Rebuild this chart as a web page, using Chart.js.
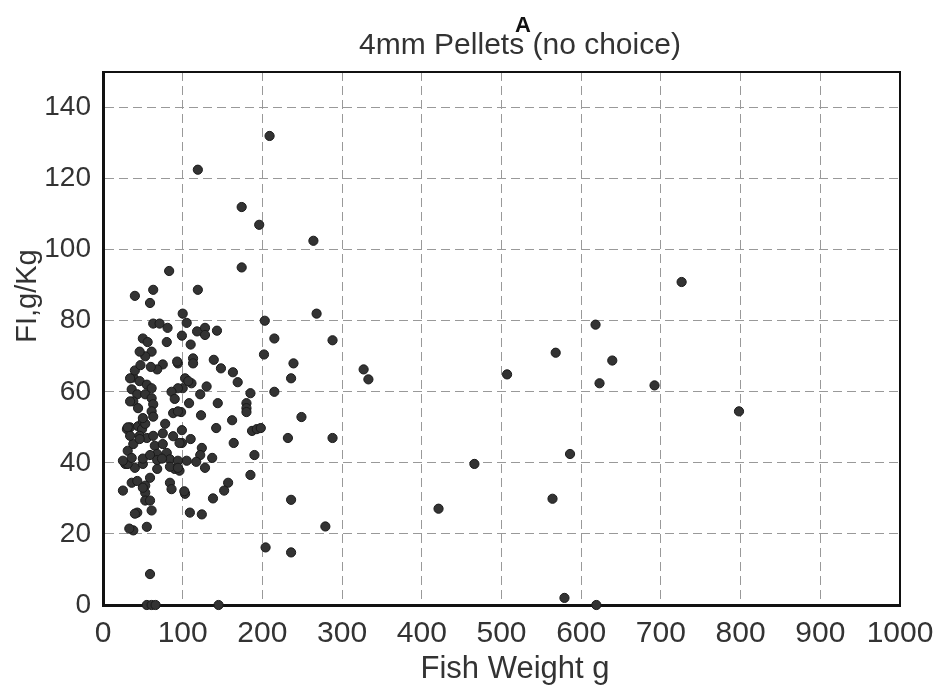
<!DOCTYPE html>
<html lang="en">
<head>
    <meta charset="UTF-8">
    <title>4mm Pellets (no choice)</title>
    <script src="https://cdn.jsdelivr.net/npm/chart.js"></script>
    <style>
        body { margin: 0; background: #fff; }
        .chart-wrap { position: relative; width: 946px; height: 690px; }
    </style>
</head>
<body>
    <div class="chart-wrap"><canvas id="fiChart"></canvas></div>

    <script>
        // Fish weight (g) and feed intake (g/kg)
        const fishWeight = [
            209, 119, 174, 196, 264, 174, 119, 100, 268, 203, 288, 215, 105, 118, 128, 128, 143, 110, 113, 113,
            139, 148, 163, 169, 202, 239, 236, 327, 333, 103, 111, 100, 130, 122, 185, 215, 180, 180, 180, 144,
            108, 98, 123, 162, 249, 99, 142, 187, 193, 198, 110, 164, 232, 288, 99, 124, 122, 117, 128, 137,
            105, 190, 185, 157, 152, 103, 138, 236, 109, 124, 279, 204, 236, 145,
            726, 618, 568, 639, 507, 623, 692, 798, 586, 466, 564, 421, 579, 619,
            55, 61, 66,
            83, 63, 40, 59, 63, 71, 81, 50, 56, 99, 80, 61, 53, 46, 75, 68, 94, 93, 38, 46,
            55, 61, 36, 43, 53, 61, 63, 107, 94, 38, 44, 88, 94, 61, 63, 78, 34, 44, 50, 49,
            53, 46, 55, 63, 96, 65, 75, 68, 80, 84, 94, 30, 40, 50, 68, 90, 96, 59, 84, 36,
            25, 53, 53, 53, 59, 43, 61, 55, 38, 59, 30, 28, 31, 33, 50, 31, 38, 46, 88, 75,
            50, 59, 68, 74, 25, 36, 84, 94, 43, 50, 86, 102, 40, 47, 60, 86, 90, 34, 34, 31,
            34, 40
        ];
        const feedIntake = [
            132, 122.5, 112, 107, 102.5, 95, 88.7, 82, 82, 80, 74.5, 75, 79.4, 77, 78, 76, 77.2, 73.3, 69.4, 68,
            69, 66.6, 65.5, 62.7, 70.5, 68, 63.8, 66.3, 63.5, 63.8, 62.4, 61, 61.5, 59.3, 59.6, 60, 56.8, 55.4, 54.3, 56.8,
            56.8, 54.3, 53.4, 52, 52.9, 49.2, 49.8, 49, 49.5, 49.8, 46.7, 45.6, 47, 47, 45.6, 44.2, 42.2, 40.3, 38.6, 41.4,
            40.6, 42.2, 36.6, 34.4, 32.2, 31.3, 30, 29.6, 26, 25.5, 22.1, 16.2, 14.8, 0,
            90.9, 78.9, 71, 68.8, 64.9, 62.4, 61.8, 54.5, 42.5, 39.7, 29.9, 27.1, 2, 0,
            0, 0, 0,
            94, 88.7, 87, 85, 79.2, 79.2, 78, 75, 74, 75.8, 74, 71.3, 70, 71.3, 67.7, 66.3, 68, 68.5, 64, 63,
            62, 61, 60.7, 59.3, 59.3, 58.2, 56.5, 63, 61, 57.3, 55.4, 54, 54.5, 54.5, 53, 51, 50, 50.3, 51.7, 49.5,
            51, 47.6, 47, 47.6, 45.6, 44.8, 45.3, 42.5, 42.8, 41, 40.6, 39.7, 38.6, 39.7, 38.3, 38.3, 37.8, 35.8, 34.4, 34.4,
            32.2, 33.6, 31.6, 29.4, 29.4, 26, 26.6, 22, 21, 8.7, 49.5, 39.7, 39.7, 21.5, 52.6, 43.4, 45.3, 46.7, 47.5, 48.3,
            41.2, 42.2, 40.8, 41.2, 40.6, 41.4, 38.9, 38.6, 34.9, 33, 32.6, 32, 66, 67.5, 67, 60, 58, 63.8, 57.3, 50,
            47.6, 25.7
        ];

        const xTicks = [0, 100, 200, 300, 400, 500, 600, 700, 800, 900, 1000];
        const yTicks = [0, 20, 40, 60, 80, 100, 120, 140];

        const points = fishWeight.map((w, i) => ({ x: w, y: feedIntake[i] }));
        const FONT = '"Liberation Sans", Arial, sans-serif';

        // Plot frame (top/right) and the free-standing labels
        const framePlugin = {
            id: 'frame',
            beforeDatasetsDraw(chart) {
                const { ctx, chartArea: a } = chart;
                ctx.save();
                ctx.strokeStyle = '#111';
                ctx.lineWidth = 2;
                ctx.beginPath();
                ctx.moveTo(a.left, a.top);
                ctx.lineTo(a.right, a.top);
                ctx.lineTo(a.right, a.bottom);
                ctx.stroke();
                ctx.restore();
            },
            afterDraw(chart) {
                const { ctx } = chart;
                ctx.save();
                ctx.textAlign = 'center';
                ctx.textBaseline = 'alphabetic';

                ctx.font = 'bold 22px ' + FONT;
                ctx.fillStyle = '#111';
                ctx.fillText('A', 523, 32);

                ctx.fillStyle = '#333';
                ctx.font = '30px ' + FONT;
                ctx.fillText('4mm Pellets (no choice)', 520, 54);

                ctx.font = '31px ' + FONT;
                ctx.fillText('Fish Weight g', 515, 678);

                ctx.translate(28, 296);
                ctx.rotate(-Math.PI / 2);
                ctx.textBaseline = 'middle';
                ctx.font = '29px ' + FONT;
                ctx.fillText('FI,g/Kg', 0, 0);
                ctx.restore();
            }
        };

        const ctx = document.getElementById('fiChart').getContext('2d');
        new Chart(ctx, {
            type: 'scatter',
            data: {
                datasets: [{
                    label: 'FI',
                    data: points,
                    backgroundColor: '#333',
                    borderColor: '#1a1a1a',
                    borderWidth: 1,
                    pointRadius: 4.6,
                    clip: false
                }]
            },
            options: {
                responsive: true,
                maintainAspectRatio: false,
                animation: false,
                layout: { padding: { top: 72, right: 46, left: 0, bottom: 0 } },
                plugins: {
                    legend: { display: false },
                    tooltip: { enabled: false }
                },
                scales: {
                    x: {
                        type: 'linear',
                        min: 0,
                        max: 1000,
                        afterBuildTicks: s => { s.ticks = xTicks.map(v => ({ value: v })); },
                        afterFit: s => { s.height = 85; },
                        grid: { color: '#999', lineWidth: 1, drawTicks: false },
                        border: { display: true, color: '#111', width: 3, dash: [9, 5] },
                        ticks: {
                            color: '#333',
                            padding: 11,
                            maxRotation: 0,
                            callback: v => String(v),
                            font: { family: FONT, size: 30 }
                        }
                    },
                    y: {
                        type: 'linear',
                        min: 0,
                        max: 150,
                        afterBuildTicks: s => { s.ticks = yTicks.map(v => ({ value: v })); },
                        afterFit: s => { s.width = 103; },
                        grid: { color: '#999', lineWidth: 1, drawTicks: false },
                        border: { display: true, color: '#111', width: 3, dash: [9, 5] },
                        ticks: {
                            color: '#333',
                            padding: 12,
                            callback: v => String(v),
                            font: { family: FONT, size: 28 }
                        }
                    }
                }
            },
            plugins: [framePlugin]
        });
    </script>
</body>
</html>
